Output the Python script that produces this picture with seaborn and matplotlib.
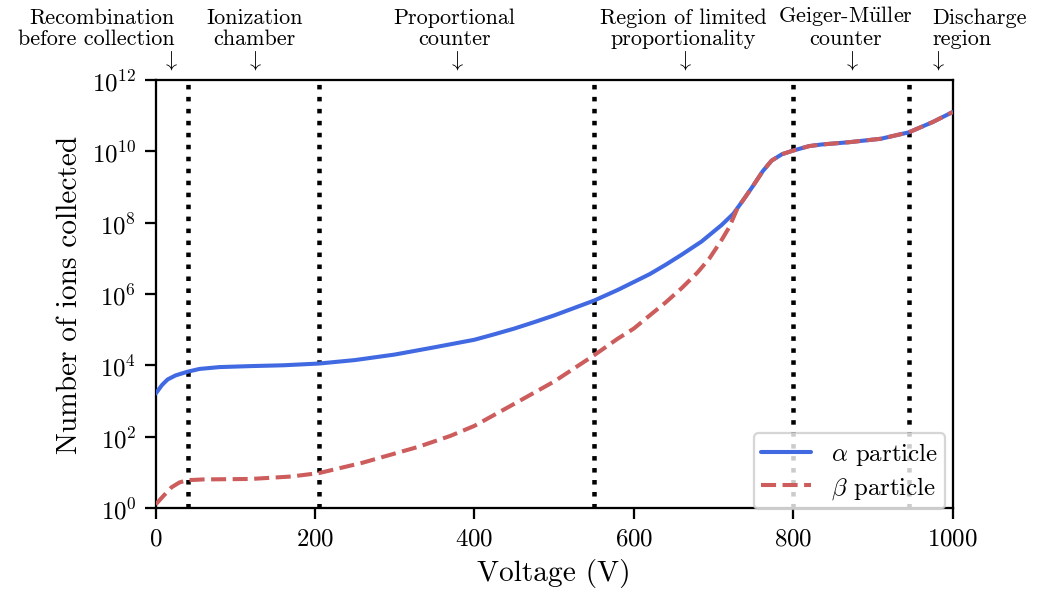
import numpy as np
import pandas as pd
import matplotlib
matplotlib.use("Agg")
import matplotlib.pyplot as plt
import matplotlib.transforms as mtransforms
import seaborn as sns

# ---- data ----
alpha_voltage = [0, 8, 15, 25, 40, 55, 80, 120, 160, 205, 250, 300, 350, 400, 425,
                 450, 475, 500, 550, 580, 620, 640, 660, 685, 710, 725, 737, 750,
                 762, 773, 786, 800, 820, 835, 870, 910, 945, 975, 1000]
alpha_ions = [1.6e3, 2.8e3, 4.0e3, 5.2e3, 6.6e3, 7.9e3, 8.9e3, 9.5e3, 1.0e4, 1.12e4,
              1.4e4, 2.0e4, 3.2e4, 5.2e4, 7.4e4, 1.07e5, 1.62e5, 2.5e5, 6.5e5,
              1.3e6, 3.6e6, 6.6e6, 1.26e7, 2.95e7, 8.5e7, 1.78e8, 4.2e8, 1.1e9,
              2.8e9, 5.5e9, 8.3e9, 1.05e10, 1.4e10, 1.55e10, 1.8e10, 2.25e10,
              3.4e10, 6.6e10, 1.26e11]

beta_voltage = [0, 10, 20, 30, 40, 60, 120, 170, 205, 260, 330, 370, 400, 450, 500,
                550, 580, 600, 620, 640, 660, 680, 695, 710, 720, 730, 737, 750,
                762, 773, 786, 800, 820, 835, 870, 910, 945, 975, 1000]
beta_ions = [1.25, 2.2, 3.8, 5.2, 6.0, 6.3, 6.5, 7.6, 9.5, 18.6, 52, 105, 200, 830,
             3.5e3, 1.9e4, 5.6e4, 1.07e5, 2.5e5, 5.8e5, 1.45e6, 4.0e6, 1.0e7, 3.2e7,
             7.6e7, 2.5e8, 4.2e8, 1.1e9, 2.8e9, 5.5e9, 8.3e9, 1.05e10, 1.4e10,
             1.55e10, 1.8e10, 2.25e10, 3.4e10, 6.6e10, 1.26e11]

region_bounds = [40, 205, 550, 800, 945]

region_labels = ["Recombination\nbefore collection", "Ionization\nchamber",
                 "Proportional\ncounter", "Region of limited\nproportionality",
                 "Geiger-M$\\ddot{\\mathrm{u}}$ller\ncounter", "Discharge\nregion"]
label_x = [24, 124, 375, 662, 866, 975]
label_align = ["right", "center", "center", "center", "center", "left"]
arrow_x = [18, 124, 377, 663, 873, 981]

yticks = [1e0, 1e2, 1e4, 1e6, 1e8, 1e10, 1e12]
xticks = [0, 200, 400, 600, 800, 1000]

# ---- style ----
sns.set_style("ticks")
plt.rcParams.update({
    "font.family": ["cmr10", "DejaVu Serif"],
    "mathtext.fontset": "cm",
    "axes.formatter.use_mathtext": True,
    "axes.unicode_minus": False,
    "axes.edgecolor": "black",
    "axes.linewidth": 1.0,
    "xtick.color": "black",
    "ytick.color": "black",
    "text.color": "black",
    "axes.labelcolor": "black",
})

fig = plt.figure(figsize=(6.4, 3.707), dpi=162.66)
ax = fig.add_axes([0.1495, 0.156, 0.7655, 0.7097])

df_a = pd.DataFrame({"V": alpha_voltage, "N": alpha_ions})
df_b = pd.DataFrame({"V": beta_voltage, "N": beta_ions})

sns.lineplot(data=df_a, x="V", y="N", ax=ax, color="#4169E1", lw=1.8,
             label=r"$\alpha$ particle", zorder=3)
sns.lineplot(data=df_b, x="V", y="N", ax=ax, color="#CD5C5C", lw=1.8,
             linestyle="--", label=r"$\beta$ particle", zorder=4)

for xb in region_bounds:
    ax.axvline(xb, color="black", lw=2.0, ls=":", zorder=2)

ax.set_yscale("log")
ax.set_xlim(0, 1000)
ax.set_ylim(1e0, 1e12)
ax.set_yticks(yticks)
ax.set_xticks(xticks)
ax.minorticks_off()
ax.tick_params(axis="both", labelsize=11, direction="out", length=5, width=1,
               top=False, right=False)
for s in ax.spines.values():
    s.set_visible(True)
    s.set_color("black")

ax.set_xlabel("Voltage (V)", fontsize=13, labelpad=4)
ax.set_ylabel("Number of ions collected", fontsize=13)

trans = mtransforms.blended_transform_factory(ax.transData, ax.transAxes)
for lab, lx, al in zip(region_labels, label_x, label_align):
    ax.text(lx, 1.084, lab, transform=trans, ha=al, va="baseline",
            multialignment=al, fontsize=9.8, linespacing=1.12, clip_on=False)
for axx in arrow_x:
    ax.text(axx, 1.047, r"$\downarrow$", transform=trans, ha="center",
            va="center", fontsize=9.8, clip_on=False)

leg = ax.legend(loc="lower right", bbox_to_anchor=(0.994, -0.008), fontsize=11,
                frameon=True, fancybox=True, framealpha=0.8, edgecolor="0.8",
                handlelength=2.0, labelspacing=0.3, borderpad=0.3,
                borderaxespad=0.1)
leg.get_frame().set_linewidth(1.0)

fig.savefig("out.png", dpi=162.66)
